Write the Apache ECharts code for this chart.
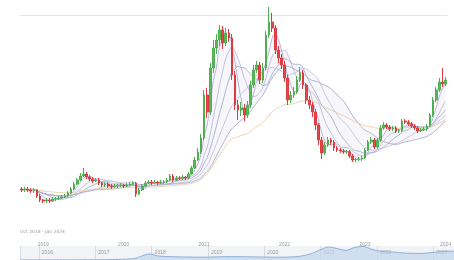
<!DOCTYPE html>
<html>
<head>
<meta charset="utf-8">
<script src="https://cdn.jsdelivr.net/npm/echarts@6.0.0/dist/echarts.min.js"></script>
<style>
html, body { margin: 0; padding: 0; background: #fff; }
#chart { width: 454px; height: 260px; }
</style>
</head>
<body>
<div id="chart"></div>
<script>
// candles are two weeks apart, starting here
const startDate = '2018-10-01';
// [open, close, low, high]
const candles = [
    [14700, 14400, 13800, 15300], [14400, 14700, 13800, 15300], [14700, 14400, 13800, 15300],
    [14400, 14100, 13500, 15000], [14100, 14400, 13500, 15000], [14400, 12600, 12000, 14700],
    [12600, 11400, 10800, 13200], [11400, 11100, 10500, 11700], [11100, 11400, 10500, 12000],
    [11400, 11100, 10500, 12000], [11100, 11700, 10800, 12300], [11700, 11800, 11100, 12300],
    [11800, 12000, 11400, 12600], [12000, 12300, 11700, 12900], [12300, 12600, 12000, 13200],
    [12600, 13500, 12300, 14100], [13500, 14700, 13200, 15300], [14700, 16200, 14400, 16800],
    [16200, 17400, 15900, 18000], [17400, 18600, 17100, 19500], [18600, 19200, 18300, 21000],
    [19200, 18300, 17700, 19800], [18300, 17700, 17100, 18900], [17700, 17100, 16500, 18300],
    [17100, 17400, 16800, 18000], [17400, 16500, 15900, 18000], [16500, 15900, 15300, 16800],
    [15900, 16200, 15300, 16800], [16200, 15600, 15000, 16800], [15600, 15300, 14700, 16200],
    [15300, 15600, 15000, 16200], [15600, 15700, 15000, 16200], [15700, 15900, 15300, 16500],
    [15900, 15600, 15000, 16200], [15600, 15900, 15300, 16500], [15900, 16200, 15600, 16800],
    [16200, 16500, 15900, 17100], [16500, 13200, 12300, 16800], [13200, 14400, 12900, 15000],
    [14400, 15600, 14100, 16200], [15600, 16500, 15300, 17100], [16500, 16800, 16200, 17400],
    [16800, 16500, 15900, 17400], [16500, 16800, 16200, 17400], [16800, 16500, 15900, 17100],
    [16500, 16800, 16200, 17400], [16800, 16900, 16200, 17400], [16900, 17400, 16500, 18000],
    [17400, 18600, 17100, 19200], [18600, 17400, 16800, 19200], [17400, 18000, 17100, 18600],
    [18000, 17900, 17400, 18600], [17900, 18300, 17400, 18900], [18300, 18000, 17400, 18600],
    [18000, 19200, 17700, 19800], [19200, 21000, 18900, 21600], [21000, 23400, 20700, 24300],
    [23400, 25800, 23100, 27000], [25800, 30000, 25200, 31200], [30000, 42900, 29400, 44400],
    [42900, 37800, 36000, 45000], [37800, 51000, 36900, 52500], [51000, 57000, 49500, 59400],
    [57000, 59400, 55200, 61200], [59400, 62400, 57600, 63900], [62400, 58500, 56700, 63600],
    [58500, 61500, 57600, 63000], [61500, 60000, 58800, 62700], [60000, 48900, 47400, 61200],
    [48900, 39900, 38400, 50100], [39900, 38400, 35400, 41400], [38400, 39000, 36600, 40800],
    [39000, 36900, 35100, 40200], [36900, 39900, 36000, 41100], [39900, 45900, 39000, 47100],
    [45900, 50400, 45000, 51900], [50400, 51900, 49500, 53100], [51900, 47400, 46200, 52800],
    [47400, 51000, 46500, 52500], [51000, 60900, 50400, 62100], [60900, 64800, 60000, 69300],
    [64800, 63000, 61800, 67500], [63000, 56400, 55200, 63900], [56400, 54000, 52500, 57600],
    [54000, 51900, 50700, 55200], [51900, 48000, 46800, 53100], [48000, 41400, 39900, 48900],
    [41400, 42900, 40500, 44100], [42900, 43800, 42000, 45300], [43800, 47400, 43200, 48600],
    [47400, 49500, 46800, 51300], [49500, 45900, 44700, 50400], [45900, 41400, 40200, 46500],
    [41400, 39900, 38700, 42600], [39900, 37800, 36300, 40800], [37800, 33900, 32400, 38700],
    [33900, 29400, 27900, 34500], [29400, 25500, 23700, 30300], [25500, 27900, 24900, 28800],
    [27900, 29400, 27300, 30300], [29400, 28800, 27900, 30000], [28800, 27000, 26100, 29400],
    [27000, 26400, 25800, 27600], [26400, 26100, 25500, 27000], [26100, 25800, 25200, 26700],
    [25800, 25900, 25200, 26400], [25900, 24600, 24000, 26400], [24600, 23400, 22800, 25200],
    [23400, 23600, 22800, 24000], [23600, 23700, 23100, 24300], [23700, 24000, 23100, 24600],
    [24000, 26400, 23700, 27000], [26400, 28800, 26100, 29400], [28800, 29400, 28200, 30300],
    [29400, 27300, 26700, 30000], [27300, 29400, 26700, 30000], [29400, 33000, 28800, 33900],
    [33000, 33900, 32400, 34800], [33900, 33300, 32700, 34500], [33300, 32700, 32100, 33900],
    [32700, 33000, 32100, 33600], [33000, 32100, 31500, 33600], [32100, 32200, 31500, 32700],
    [32200, 35100, 31800, 35700], [35100, 34800, 34200, 35700], [34800, 34200, 33600, 35400],
    [34200, 33600, 33000, 34800], [33600, 33000, 32400, 34200], [33000, 32100, 31500, 33600],
    [32100, 32400, 31800, 33000], [32400, 32700, 32100, 33300], [32700, 33600, 32100, 34200],
    [33600, 36900, 33300, 37500], [36900, 41400, 36300, 42300], [41400, 44400, 40800, 45300],
    [44400, 46800, 43800, 48000], [46800, 46200, 45300, 51000], [46200, 47400, 45600, 48300]
];
const maPeriods = [4, 8, 12, 18, 26];
const maColors = ['#a9a6cf', '#b7b3d8', '#9ea7c6', '#c0bcd9', '#a3a3c0'];
const longPeriod = 50;
const rangeText = 'Oct 2018 - Jan 2024';

// navigator (whole history)
const navDates = ['2015-09-01', '2016-06-01', '2017-01-01', '2017-06-01', '2017-09-15', '2017-12-15',
    '2018-02-15', '2018-06-01', '2018-12-01', '2019-06-01', '2019-12-01', '2020-03-15', '2020-08-01',
    '2020-10-25', '2021-01-01', '2021-02-20', '2021-04-25', '2021-06-15', '2021-08-05', '2021-10-01',
    '2021-12-05', '2022-02-05', '2022-04-10', '2022-07-15', '2022-10-20', '2023-01-20', '2023-05-15'];
const navValues = [300, 600, 1000, 3000, 8000, 30000, 20000, 16000, 14000, 17000, 15000, 14000, 17000,
    30000, 52000, 65000, 56000, 48000, 62000, 68000, 52000, 42000, 40000, 34000, 33000, 40000, 45000];

let dates = [];
let d0 = new Date(startDate + 'T00:00:00Z');
for (let i = 0; i < candles.length; i++) {
    let d = new Date(d0.getTime() + i * 14 * 86400000);
    dates.push(d.toISOString().slice(0, 10));
}
let closes = candles.map(function (c) { return c[1]; });

// simple moving average, shorter window at the start
function sma(values, n) {
    return values.map(function (v, i) {
        let s = Math.max(0, i - n + 1), sum = 0;
        for (let k = s; k <= i; k++) sum += values[k];
        return Math.round(sum / (i - s + 1));
    });
}
// exponential moving average, seeded with the first close
function ema(values, n) {
    let a = 2 / (n + 1), out = [], prev = values[0];
    values.forEach(function (v) {
        prev = prev + a * (v - prev);
        out.push(Math.round(prev));
    });
    return out;
}

let maLines = maPeriods.map(function (p) { return sma(closes, p); });
let bandBase = closes.map(function (v, i) { return Math.min.apply(null, maLines.map(function (m) { return m[i]; })); });
let bandWidth = closes.map(function (v, i) { return Math.max.apply(null, maLines.map(function (m) { return m[i]; })) - bandBase[i]; });

let chart = echarts.init(document.getElementById('chart'));

let series = [
    {
        type: 'line', stack: 'band', data: bandBase, symbol: 'none',
        lineStyle: { width: 0 }, silent: true
    },
    {
        type: 'line', stack: 'band', data: bandWidth, symbol: 'none',
        lineStyle: { width: 0 }, areaStyle: { color: 'rgba(185,185,220,0.16)' }, silent: true
    }
];
maLines.forEach(function (m, k) {
    series.push({
        type: 'line', data: m, symbol: 'none', smooth: true,
        lineStyle: { width: 1, color: maColors[k], opacity: 0.85 }
    });
});
series.push({
    type: 'line', data: ema(closes, longPeriod), symbol: 'none', smooth: true,
    lineStyle: { width: 1, color: '#e6cfa6' }
});
series.push({
    type: 'candlestick', data: candles, barWidth: '70%', clip: false, z: 5,
    itemStyle: {
        color: '#5cb85c', color0: '#e2474b',
        borderColor: '#4fae4f', borderColor0: '#dc3c41', borderWidth: 1
    }
});
series.push({
    type: 'line', xAxisIndex: 2, yAxisIndex: 1,
    data: navDates.map(function (d, i) { return [d, navValues[i]]; }),
    symbol: 'none', smooth: 0.3,
    lineStyle: { width: 1, color: '#8db1d8' },
    areaStyle: { color: '#c2d6ec' }
});

option = {
    animation: false,
    grid: [
        { left: 20, right: 0, top: 15, bottom: 22 },
        { left: 20, right: 0, top: 246, bottom: 0, show: true, backgroundColor: '#f1f3f6', borderWidth: 0 }
    ],
    xAxis: [
        {
            type: 'category', data: dates, gridIndex: 0,
            axisLine: { show: false }, axisTick: { show: false },
            axisLabel: {
                fontSize: 5, color: '#9a9a9a', margin: 4,
                interval: function (i, v) { return i > 0 && v.slice(0, 4) !== dates[i - 1].slice(0, 4); },
                formatter: function (v) { return v.slice(0, 4); }
            }
        },
        {
            type: 'category', data: dates, gridIndex: 0, position: 'top',
            axisLine: { show: true, lineStyle: { color: '#e6e6e6', width: 1 } },
            axisTick: { show: false }, axisLabel: { show: false }
        },
        {
            type: 'time', gridIndex: 1, position: 'top',
            min: '2015-09-01', max: '2023-05-15',
            minInterval: 365 * 86400000, maxInterval: 366 * 86400000,
            axisLine: { show: false }, axisTick: { show: false },
            splitLine: { show: true, lineStyle: { color: '#d6dbe2', width: 1 } },
            axisLabel: {
                inside: true, fontSize: 5, color: '#9a9a9a', margin: 4,
                align: 'left', padding: [0, 0, 0, 3], formatter: '{yyyy}'
            }
        }
    ],
    yAxis: [
        { type: 'value', gridIndex: 0, min: 0, max: 66900, show: false, splitLine: { show: false } },
        { type: 'value', gridIndex: 1, min: 0, max: 70000, show: false, splitLine: { show: false } }
    ],
    graphic: [{
        type: 'text', left: 20, top: 229,
        style: { text: rangeText, fontSize: 4.5, fill: '#9a9a9a', fontFamily: 'DejaVu Sans' }
    }],
    series: series
};
chart.setOption(option);
</script>
</body>
</html>
